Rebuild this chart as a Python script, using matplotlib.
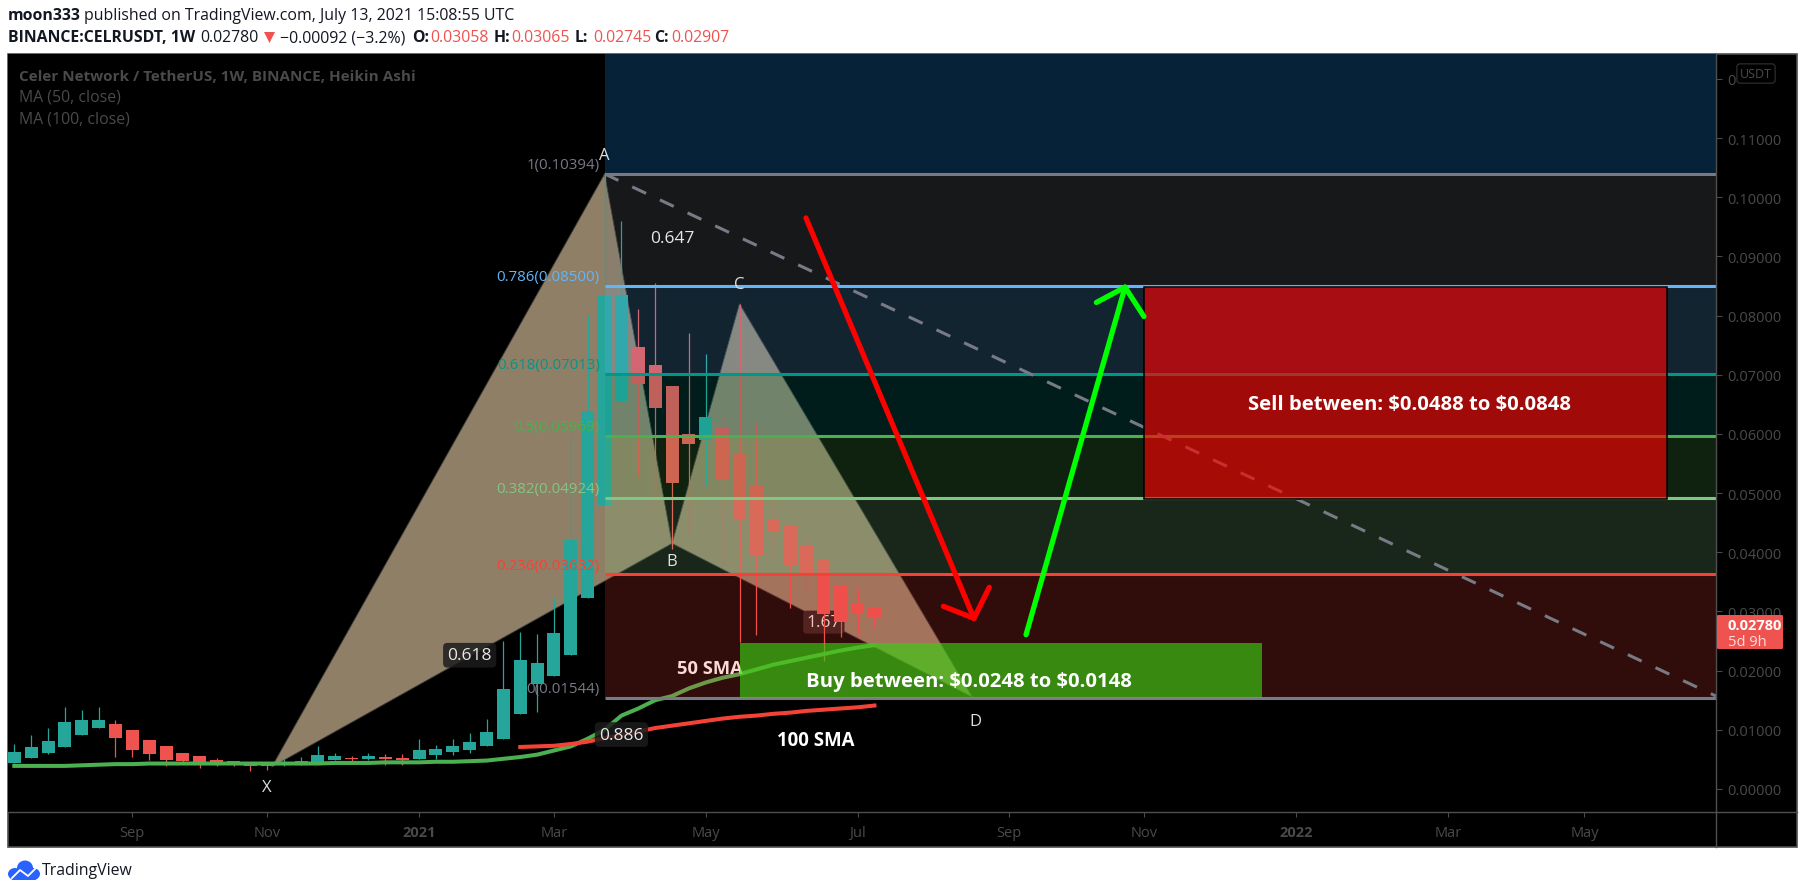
import matplotlib
matplotlib.use("Agg")
import matplotlib.pyplot as plt
from matplotlib.patches import Polygon, Rectangle, Ellipse, FancyBboxPatch
from matplotlib.lines import Line2D

W, H = 1805, 895
plt.rcParams['font.family'] = ['Open Sans', 'DejaVu Sans']

# weekly heikin ashi candles
opens = [.00439, .00524, .00608, .00710, .00912, .01031, .01098, .00997, .00828, .00727,
         .00608, .00558, .00490, .00473, .00456, .00439, .00411, .00406, .00439, .00490,
         .00524, .00507, .00541, .00524, .00507, .00575, .00625, .00659, .00727, .00845,
         .01267, .01774, .01915, .02270, .03227, .0480, .0656, .0747, .0716, .0681,
         .0600, .0590, .0610, .0566, .0512, .0455, .0446, .0411, .0389, .0343, .0313, .0306]
highs = [.00760, .00912, .01025, .01386, .01335, .01386, .01166, .00997, .00828, .00727,
         .00608, .00558, .00524, .00473, .00456, .00439, .00507, .00541, .00727, .00608,
         .00558, .00608, .00591, .00591, .00845, .00744, .00845, .00946, .01183, .02495,
         .02647, .02619, .03239, .0595, .0801, .10394, .0960, .0811, .0855, .0681,
         .0771, .0735, .0632, .0820, .0618, .0500, .0446, .0424, .0389, .0343, .0340, .0306]
lows = [.00439, .00524, .00591, .00710, .00912, .01031, .00541, .00541, .00490, .00389,
        .00422, .00355, .00389, .00389, .00304, .00321, .00389, .00406, .00439, .00490,
        .00456, .00490, .00406, .00406, .00507, .00507, .00575, .00608, .00727, .00845,
        .01267, .01307, .01915, .02270, .03227, .0480, .0656, .0529, .0482, .0405,
        .0428, .0514, .0380, .0249, .0260, .0387, .0306, .0335, .0217, .0257, .0260, .0273]
closes = [.00625, .00710, .00811, .01132, .01166, .01166, .00862, .00659, .00591, .00490,
          .00473, .00422, .00439, .00422, .00389, .00389, .00439, .00473, .00575, .00558,
          .00507, .00558, .00507, .00490, .00659, .00676, .00727, .00794, .00963, .01690,
          .02180, .02129, .02636, .04207, .0639, .0833, .0835, .0684, .0644, .0517,
          .0583, .0629, .0522, .0455, .0396, .0434, .0376, .0365, .0296, .0283, .0297, .0289]

ma50 = [.0039, .0039, .0039, .0039, .0040, .0041, .0042, .0042, .0043, .0043, .0043, .0043, .0043,
        .0043, .0043, .0043, .0043, .0043, .0043, .0044, .0044, .0044, .0045, .0045, .0045, .0046,
        .0046, .0047, .0048, .0051, .0054, .0058, .0065, .0072, .0085, .0100, .0124, .0136, .0150,
        .0157, .0170, .0180, .0188, .0194, .0202, .0210, .0216, .0222, .0228, .0234, .0239, .0243]
ma100_start = 30
ma100 = [.0071, .0072, .0073, .0076, .0080, .0086, .0091, .0097, .0103, .0107, .0111,
         .0115, .0119, .0122, .0124, .0127, .0129, .0132, .0134, .0136, .0138, .0141]

fib_levels = [.10394, .08500, .07013, .05969, .04924, .03632, .01544]
fib_names = ['1', '0.786', '0.618', '0.5', '0.382', '0.236', '0']
fib_colors = ['#787b86', '#64b5f6', '#009688', '#4caf50', '#81c784', '#f44336', '#787b86']
fib_start = 35

# XABCD pattern (week index, price)
pattern_x = [15.26, 35, 39, 43, 56.8]
pattern_y = [.0037, .10394, .0415, .0820, .01555]
pattern_names = ['X', 'A', 'B', 'C', 'D']

buy_x = [43, 74.0]
buy_y = [.01544, .0247]
sell_x = [67.0, 98.0]
sell_y = [.0490, .0848]

red_arrow = [(46.94, .0965), (56.9, .02884)]
red_wings = [(55.09, .03087), (57.81, .03408)]
green_arrow = [(59.99, .02607), (65.86, .0848)]
green_wings = [(64.16, .08221), (66.98, .07984)]

xtick_pos = [7, 15, 24, 32, 41, 50, 59, 67, 76, 85, 93.1]
xtick_labels = ['Sep', 'Nov', '2021', 'Mar', 'May', 'Jul', 'Sep', 'Nov', '2022', 'Mar', 'May']
ytick_pos = [0, .01, .02, .03, .04, .05, .06, .07, .08, .09, .10, .11, .12]
last_price = .02780


def px(x, y):
    return x / W, 1 - y / H


fig = plt.figure(figsize=(W / 100, H / 100), dpi=100, facecolor='white')
tf = fig.transFigure

# black panel behind plot, price strip and time strip
fig.add_artist(Rectangle(px(8, 848), 1789 / W, 793 / H, transform=tf, facecolor='black',
                         edgecolor='#4f4f4f', linewidth=1.2, zorder=-5))

ax = fig.add_axes([8 / W, 1 - 813 / H, 1708 / W, 758 / H], facecolor='black')
ax.set_xlim(-0.374, 100.9)
ax.set_ylim(-0.00389, 0.1242)
for s in ['left', 'top']:
    ax.spines[s].set_visible(False)
for s in ['right', 'bottom']:
    ax.spines[s].set_color('#4f4f4f')
    ax.spines[s].set_linewidth(1)
    ax.spines[s].set_zorder(10)

ax.yaxis.tick_right()
ax.set_yticks(ytick_pos)
ax.set_yticklabels(['%.5f' % v for v in ytick_pos[:-1]] + ['0'], fontsize=10.5, color='#4a4a4a')
ax.tick_params(axis='y', length=4, width=0.8, color='#4a4a4a', pad=4.2)
ax.set_xticks(xtick_pos)
ax.set_xticklabels(xtick_labels, fontsize=10.5, color='#4a4a4a')
ax.tick_params(axis='x', length=3.5, width=0.8, color='#4a4a4a', pad=6)
for lab in ax.get_xticklabels():
    if lab.get_text() in ('2021', '2022'):
        lab.set_fontweight('bold')

# harmonic pattern triangles
ax.add_patch(Polygon(list(zip(pattern_x[:3], pattern_y[:3])), closed=True, facecolor='#8f7f66',
                     edgecolor='#3a3a36', linewidth=0.6, zorder=1))
ax.add_patch(Polygon(list(zip(pattern_x[2:], pattern_y[2:])), closed=True, facecolor='#8f7f66',
                     edgecolor='#3a3a36', linewidth=0.6, zorder=1))

# candles
for i in range(len(opens)):
    col = '#26a69a' if closes[i] >= opens[i] else '#ef5350'
    ax.vlines(i, lows[i], highs[i], color=col, linewidth=0.9, zorder=2)
    ax.bar(i, abs(closes[i] - opens[i]), bottom=min(opens[i], closes[i]), width=0.77,
           color=col, linewidth=0, zorder=2)

# moving averages
ax.plot(range(len(ma50)), ma50, color='#4caf50', linewidth=2.9, zorder=2.5)
ax.plot(range(ma100_start, ma100_start + len(ma100)), ma100, color='#f44336', linewidth=2.9, zorder=2.5)

# text that sits under the fib fill
ax.text(43.2, .0205, '50 SMA', color='white', fontsize=13.2, fontweight='bold',
        ha='right', va='center', zorder=2.8)
ax.text(48, .0282, '1.67', color='#e8e8e8', fontsize=12.5, ha='center', va='center', zorder=1.8,
        bbox=dict(boxstyle='round,pad=0.2', facecolor='#2a1c1a', edgecolor='none'))

# fib retracement
x_end = ax.get_xlim()[1]
ax.add_patch(Rectangle((fib_start, fib_levels[0]), x_end - fib_start, ax.get_ylim()[1] - fib_levels[0],
                       facecolor='#052238', linewidth=0, zorder=3))
for k in range(len(fib_levels) - 1):
    ax.add_patch(Rectangle((fib_start, fib_levels[k + 1]), x_end - fib_start,
                           fib_levels[k] - fib_levels[k + 1], facecolor=fib_colors[k], alpha=0.2,
                           linewidth=0, zorder=3))
for lev, name, col in zip(fib_levels, fib_names, fib_colors):
    ax.plot([fib_start, x_end], [lev, lev], color=col, linewidth=2.2, solid_capstyle='butt', zorder=3.2)
    ax.annotate('%s(%.5f)' % (name, lev), (fib_start, lev), xytext=(-3.5, 6.5), textcoords='offset points',
                color=col, fontsize=10.8, ha='right', va='center', zorder=6)

# dashed line from A out to the right edge
ax.plot([fib_start, x_end], [fib_levels[0], .0157], color='#787b86', linewidth=2.2,
        dashes=(5, 5), zorder=3.3)

# buy / sell boxes
ax.add_patch(Rectangle((buy_x[0], buy_y[0]), buy_x[1] - buy_x[0], buy_y[1] - buy_y[0],
                       facecolor='#3ccd13', alpha=0.65, linewidth=0, zorder=3.5))
ax.add_patch(Rectangle((sell_x[0], sell_y[0]), sell_x[1] - sell_x[0], sell_y[1] - sell_y[0],
                       facecolor=(1, 0, 0, 0.63), edgecolor='black', linewidth=1.1, zorder=3.5))
ax.text(sum(sell_x) / 2 + 0.2, 0.0650, r'Sell between: \$0.0488 to \$0.0848', color='white', fontsize=14.6,
        fontweight='bold', ha='center', va='center', zorder=6)
ax.text(56.6, .0182, r'Buy between: \$0.0248 to \$0.0148', color='white', fontsize=14.6,
        fontweight='bold', ha='center', va='center', zorder=6)
ax.text(47.5, .0083, '100 SMA', color='white', fontsize=13.4, fontweight='bold',
        ha='center', va='center', zorder=6)

# arrows
for line, wings, col in [(red_arrow, red_wings, '#ff0000'), (green_arrow, green_wings, '#00ff00')]:
    ax.plot(*zip(*line), color=col, linewidth=3.8, solid_capstyle='round', zorder=5)
    tip = line[1]
    for w in wings:
        ax.plot([w[0], tip[0]], [w[1], tip[1]], color=col, linewidth=3.8, solid_capstyle='round', zorder=5)

# pattern letters and ratios
offs = [(-0.3, -.0033), (0, .0032), (0, -.0029), (0, .0033), (0.2, -.0040)]
for xp, yp, name, (dx, dy) in zip(pattern_x, pattern_y, pattern_names, offs):
    ax.text(xp + dx, yp + dy, name, color='#e0e0e0', fontsize=12, ha='center', va='center', zorder=6)
for xr, yr, r in [(27.0, .0226, '0.618'), (39, .0931, '0.647'), (36, .0092, '0.886')]:
    box = dict(boxstyle='round,pad=0.25', facecolor='#1c1c1c', edgecolor='none', alpha=0.85)
    ax.text(xr, yr, r, color='#e8e8e8', fontsize=12.5, ha='center', va='center', zorder=6,
            bbox=box if r != '0.647' else None)

# legend text inside panel
ax.text(*px(19, 77), 'Celer Network / TetherUS, 1W, BINANCE, Heikin Ashi', transform=tf, color='#4a4a4a',
        fontsize=11, fontweight='bold', va='center', zorder=6)
ax.text(*px(19, 98), 'MA (50, close)', transform=tf, color='#4a4a4a', fontsize=11.4, va='center', zorder=6)
ax.text(*px(19, 119), 'MA (100, close)', transform=tf, color='#4a4a4a', fontsize=11.4, va='center', zorder=6)

# USDT badge and last price tag
ax.text(*px(1756, 74.5), 'USDT', transform=tf, color='#4a4a4a', fontsize=9, ha='center', va='center', zorder=20,
        bbox=dict(boxstyle='round,pad=0.25', facecolor='black', edgecolor='#333333', linewidth=0.8))
tag = FancyBboxPatch(px(1717, 650), 66 / W, 34 / H, transform=tf, boxstyle='round,pad=0,rounding_size=0.001',
                     facecolor='#ef5350', edgecolor='none', clip_on=False, zorder=20)
ax.add_patch(tag)
ax.text(*px(1728, 625.7), '%.5f' % last_price, transform=tf, color='white', fontsize=10.5, fontweight='bold',
        va='center', zorder=21)
ax.text(*px(1728, 642), '5d 9h', transform=tf, color='#fbdcdb', fontsize=10.5, va='center', zorder=21)

# strip separators outside the axes
fig.add_artist(Line2D([1716 / W, 1716 / W], [1 - 848 / H, 1 - 813 / H], color='#4f4f4f', linewidth=1))
fig.add_artist(Line2D([1716 / W, 1797 / W], [1 - 813 / H, 1 - 813 / H], color='#4f4f4f', linewidth=1))

# header rows
fig.text(*px(8, 16.5), 'moon333', fontsize=11.4, fontweight='bold', color='#131722', va='center')
fig.text(*px(84, 16.5), 'published on TradingView.com, July 13, 2021 15:08:55 UTC', fontsize=11.4,
         color='#131722', va='center')
fig.text(*px(8, 38.5), 'BINANCE:CELRUSDT, 1W', fontsize=11.4, fontweight='bold', color='#131722', va='center')
fig.text(*px(200, 38.5), '0.02780', fontsize=11.4, color='#131722', va='center')
fig.add_artist(Polygon([px(264, 33), px(275, 33), px(269.5, 44)], transform=tf, facecolor='#ef5350', edgecolor='none'))
fig.text(*px(280, 38.5), '\u22120.00092 (\u22123.2%)', fontsize=11.4, color='#131722', va='center')
for x_lab, x_val, lab, val in [(412, 430, 'O:', '0.03058'), (494, 511, 'H:', '0.03065'),
                               (575, 593, 'L:', '0.02745'), (654, 671, 'C:', '0.02907')]:
    fig.text(*px(x_lab, 38.5), lab, fontsize=11.4, fontweight='bold', color='#131722', va='center')
    fig.text(*px(x_val, 38.5), val, fontsize=11.4, color='#ef5350', va='center')

# footer logo
for cx, cy, ew, eh in [(15, 875, 14, 12), (25, 869, 16, 15), (33, 875, 14, 12)]:
    fig.add_artist(Ellipse(px(cx, cy), ew / W, eh / H, transform=tf, facecolor='#2962ff', edgecolor='none'))
fig.add_artist(Rectangle(px(12, 881), 24 / W, 7 / H, transform=tf, facecolor='#2962ff', edgecolor='none'))
fig.add_artist(Line2D([p / W for p in (12, 20, 28, 37)], [1 - p / H for p in (879, 871, 877, 868)],
                      color='white', linewidth=1.3))
fig.text(*px(42, 871), 'TradingView', fontsize=11.4, color='#131722', va='center')

fig.savefig('out.png', dpi=100)
